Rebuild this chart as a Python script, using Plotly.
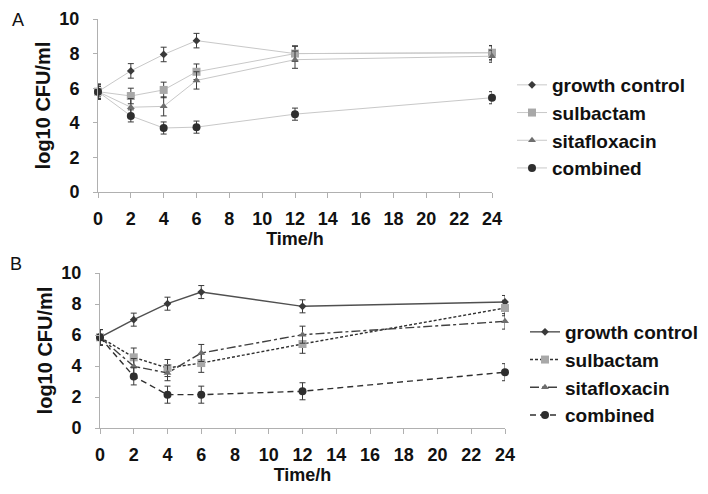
import plotly.graph_objects as go

W, H = 708, 494

time_h = [0, 2, 4, 6, 12, 24]
series_names = ["growth control", "sulbactam", "sitafloxacin", "combined"]

# Panel A values (log10 CFU/ml)
a_growth = [5.8, 7.0, 7.95, 8.75, 8.0, 8.05]
a_sulb = [5.8, 5.55, 5.9, 6.95, 8.0, 8.05]
a_sita = [5.8, 4.9, 4.95, 6.45, 7.65, 7.85]
a_comb = [5.8, 4.4, 3.7, 3.75, 4.5, 5.45]
a_growth_err = [0.45, 0.42, 0.42, 0.42, 0.42, 0.42]
a_sulb_err = [0.4, 0.45, 0.45, 0.45, 0.45, 0.4]
a_sita_err = [0.4, 0.5, 0.55, 0.5, 0.5, 0.35]
a_comb_err = [0.3, 0.35, 0.35, 0.35, 0.35, 0.35]

# Panel B values (log10 CFU/ml)
b_growth = [5.85, 6.99, 8.02, 8.77, 7.85, 8.13]
b_sulb = [5.85, 4.56, 3.87, 4.19, 5.42, 7.74]
b_sita = [5.85, 3.98, 3.55, 4.84, 6.02, 6.88]
b_comb = [5.85, 3.33, 2.15, 2.15, 2.37, 3.6]
b_growth_err = [0.5, 0.42, 0.42, 0.42, 0.42, 0.42]
b_sulb_err = [0.5, 0.6, 0.55, 0.6, 0.6, 0.5]
b_sita_err = [0.5, 0.5, 0.5, 0.55, 0.55, 0.5]
b_comb_err = [0.5, 0.55, 0.55, 0.55, 0.55, 0.55]

x_ticks = [0, 2, 4, 6, 8, 10, 12, 14, 16, 18, 20, 22, 24]
y_ticks = [0, 2, 4, 6, 8, 10]

FONT = "Liberation Sans, Arial, sans-serif"

markers = [
    dict(symbol="diamond", size=6, color="#3a3a3a"),
    dict(symbol="square", size=8, color="#a8a8a8"),
    dict(symbol="triangle-up", size=7, color="#6e6e6e"),
    dict(symbol="circle", size=8, color="#2e2e2e"),
]
b_lines = [
    dict(color="#505050", width=1.4, dash="solid"),
    dict(color="#303030", width=1.4, dash="3px,2px"),
    dict(color="#404040", width=1.4, dash="dashdot"),
    dict(color="#303030", width=1.4, dash="6px,4px"),
]

fig = go.Figure()

a_vals = [a_growth, a_sulb, a_sita, a_comb]
a_errs = [a_growth_err, a_sulb_err, a_sita_err, a_comb_err]
for name, v, e, m in zip(series_names, a_vals, a_errs, markers):
    fig.add_trace(go.Scatter(
        x=time_h, y=v, name=name, mode="lines+markers",
        line=dict(color="#c8c8c8", width=1),
        marker=m,
        error_y=dict(type="data", array=e, color="#3a3a3a", thickness=1, width=3),
        xaxis="x", yaxis="y", legend="legend", cliponaxis=False,
    ))

b_vals = [b_growth, b_sulb, b_sita, b_comb]
b_errs = [b_growth_err, b_sulb_err, b_sita_err, b_comb_err]
for name, v, e, m, ln in zip(series_names, b_vals, b_errs, markers, b_lines):
    fig.add_trace(go.Scatter(
        x=time_h, y=v, name=name, mode="lines+markers",
        line=ln,
        marker=m,
        error_y=dict(type="data", array=e, color="#3a3a3a", thickness=1, width=3),
        xaxis="x2", yaxis="y2", legend="legend2", cliponaxis=False,
    ))

tickfont = dict(family=FONT, size=18, color="#111111", weight="bold")
titlefont = dict(family=FONT, size=18, color="#111111", weight="bold")

def xax(domain, anchor):
    return dict(
        domain=domain, anchor=anchor, range=[0, 24], tickvals=x_ticks,
        showgrid=False, zeroline=False, showline=True, linecolor="#b0b0b0", linewidth=1,
        ticks="outside", ticklen=5, tickcolor="#b0b0b0", tickfont=tickfont,
        ticklabelstandoff=5, automargin=False,
        title=dict(text="Time/h", font=titlefont, standoff=0),
    )

def yax(domain, anchor):
    return dict(
        domain=domain, anchor=anchor, range=[0, 10], tickvals=y_ticks,
        showgrid=False, zeroline=False, showline=True, linecolor="#b0b0b0", linewidth=1,
        ticks="outside", ticklen=4, tickcolor="#b0b0b0", tickfont=tickfont,
        ticklabelstandoff=10, automargin=False,
        title=dict(text="log10 CFU/ml", font=dict(family=FONT, size=20, color="#111111", weight="bold"), standoff=3),
    )

legfont = dict(family=FONT, size=19, color="#111111", weight="bold")

fig.update_layout(
    width=W, height=H,
    margin=dict(l=0, r=0, t=0, b=0, autoexpand=False),
    paper_bgcolor="white", plot_bgcolor="white",
    xaxis=xax([98 / W, 492 / W], "y"),
    yaxis=yax([1 - 192 / H, 1 - 19 / H], "x"),
    xaxis2=xax([100 / W, 505 / W], "y2"),
    yaxis2=yax([1 - 428 / H, 1 - 273 / H], "x2"),
    legend=dict(x=512 / W, y=1 - 66 / H, xanchor="left", yanchor="top",
                font=legfont, bgcolor="rgba(0,0,0,0)", itemwidth=30),
    legend2=dict(x=525 / W, y=1 - 313 / H, xanchor="left", yanchor="top",
                 font=legfont, bgcolor="rgba(0,0,0,0)", itemwidth=30),
    annotations=[
        dict(text="A", x=10 / W, y=1 - 8 / H, xref="paper", yref="paper",
             xanchor="left", yanchor="top",
             showarrow=False, font=dict(family=FONT, size=18, color="#111111")),
        dict(text="B", x=8 / W, y=1 - 252 / H, xref="paper", yref="paper",
             xanchor="left", yanchor="top",
             showarrow=False, font=dict(family=FONT, size=18, color="#111111")),
    ],
)

fig.write_html("out.html", config={"displayModeBar": False},
               post_script="document.body.style.margin='0';document.body.style.overflow='hidden';")
